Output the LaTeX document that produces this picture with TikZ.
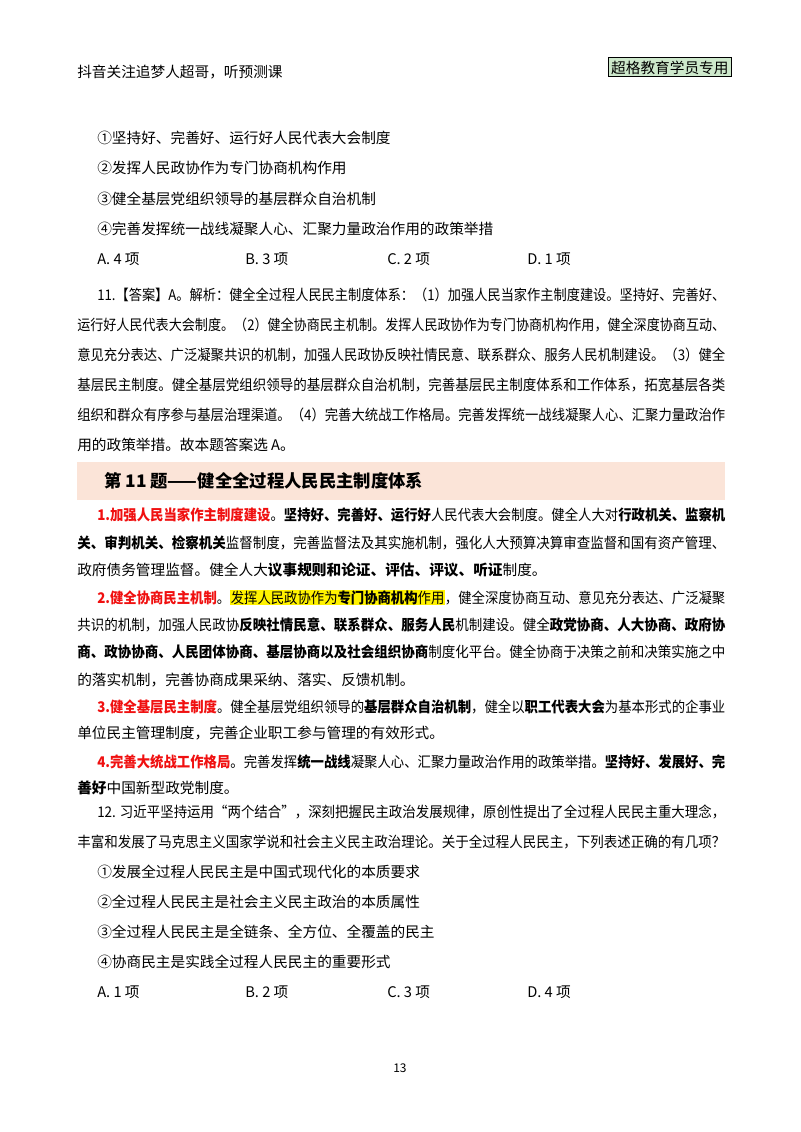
\documentclass[tikz,border=0pt]{standalone}
\usepackage{fontspec}
\usepackage{graphicx}
\setmainfont{Noto Sans CJK SC}
\XeTeXlinebreaklocale "zh"
\XeTeXlinebreakskip=0pt plus 2pt
\definecolor{redt}{HTML}{F01010}
\definecolor{bandc}{HTML}{FBE4D8}
\definecolor{greenb}{HTML}{CDE8CB}
\newsavebox\lnbox
\newcommand\jl[2]{\sbox\lnbox{#2}\ifdim\wd\lnbox>#1\relax\resizebox{#1}{\ht\lnbox}{\usebox\lnbox}\else\hbox to #1{#2}\fi}
\newcommand\rt[1]{{\color{redt}\bfseries #1}}
\newcommand\bt[1]{{\bfseries #1}}
\newcommand\hl[1]{{\setlength\fboxsep{0.5pt}\colorbox{yellow}{#1}}}
\begin{document}
\begin{tikzpicture}[x=0.75pt,y=-0.75pt,
  tx/.style={anchor=base west,inner sep=0pt,font=\fontsize{11pt}{13pt}\selectfont}]
\useasboundingbox (0,0) rectangle (800,1132);
\fill[white] (0,0) rectangle (800,1132);
\node[tx] (hd) at (77,77) {抖音关注追梦人超哥，听预测课};
\node[tx,draw,fill=greenb,inner sep=2pt,line width=0.8pt] (gb) at (608,73) {超格教育学员专用};
\node[tx] (q1) at (97,143) {①坚持好、完善好、运行好人民代表大会制度};
\node[tx] (q2) at (97,173) {②发挥人民政协作为专门协商机构作用};
\node[tx] (q3) at (97,204) {③健全基层党组织领导的基层群众自治机制};
\node[tx] (q4) at (97,234) {④完善发挥统一战线凝聚人心、汇聚力量政治作用的政策举措};
\node[tx] (oa) at (97,264) {A. 4 项};
\node[tx] (ob) at (245,264) {B. 3 项};
\node[tx] (oc) at (387,264) {C. 2 项};
\node[tx] (od) at (527,264) {D. 1 项};
\node[tx] (a1) at (97,300) {\jl{471pt}{11.【答案】A。解析：健全全过程人民民主制度体系：（1）加强人民当家作主制度建设。坚持好、完善好、}};
\node[tx] (a2) at (77,330) {\jl{486pt}{运行好人民代表大会制度。（2）健全协商民主机制。发挥人民政协作为专门协商机构作用，健全深度协商互动、}};
\node[tx] (a3) at (77,360) {\jl{486pt}{意见充分表达、广泛凝聚共识的机制，加强人民政协反映社情民意、联系群众、服务人民机制建设。（3）健全}};
\node[tx] (a4) at (77,390) {\jl{486pt}{基层民主制度。健全基层党组织领导的基层群众自治机制，完善基层民主制度体系和工作体系，拓宽基层各类}};
\node[tx] (a5) at (77,420) {\jl{486pt}{组织和群众有序参与基层治理渠道。（4）完善大统战工作格局。完善发挥统一战线凝聚人心、汇聚力量政治作}};
\node[tx] (a6) at (77,450) {用的政策举措。故本题答案选 A。};
\fill[bandc] (77,462) rectangle (725,500);
\node[tx,font=\fontsize{13pt}{15pt}\selectfont\bfseries] (band) at (104,487) {第 11 题——健全全过程人民民主制度体系};
\node[tx] (p1a) at (97,520) {\jl{471pt}{\rt{1.加强人民当家作主制度建设}。\bt{坚持好、完善好、运行好}人民代表大会制度。健全人大对\bt{行政机关、监察机}}};
\node[tx] (p1b) at (77,548) {\jl{486pt}{\bt{关、审判机关、检察机关}监督制度，完善监督法及其实施机制，强化人大预算决算审查监督和国有资产管理、}};
\node[tx] (p1c) at (77,575) {政府债务管理监督。健全人大\bt{议事规则和论证、评估、评议、听证}制度。};
\node[tx] (p2a) at (97,603) {\jl{471pt}{\rt{2.健全协商民主机制}。\hl{发挥人民政协作为\bt{专门协商机构}作用}，健全深度协商互动、意见充分表达、广泛凝聚}};
\node[tx] (p2b) at (77,630) {\jl{486pt}{共识的机制，加强人民政协\bt{反映社情民意、联系群众、服务人民}机制建设。健全\bt{政党协商、人大协商、政府协}}};
\node[tx] (p2c) at (77,657) {\jl{486pt}{\bt{商、政协协商、人民团体协商、基层协商以及社会组织协商}制度化平台。健全协商于决策之前和决策实施之中}};
\node[tx] (p2d) at (77,685) {的落实机制，完善协商成果采纳、落实、反馈机制。};
\node[tx] (p3a) at (97,712) {\jl{471pt}{\rt{3.健全基层民主制度}。健全基层党组织领导的\bt{基层群众自治机制}，健全以\bt{职工代表大会}为基本形式的企事业}};
\node[tx] (p3b) at (77,738) {单位民主管理制度，完善企业职工参与管理的有效形式。};
\node[tx] (p4a) at (97,767) {\jl{471pt}{\rt{4.完善大统战工作格局}。完善发挥\bt{统一战线}凝聚人心、汇聚力量政治作用的政策举措。\bt{坚持好、发展好、完}}};
\node[tx] (p4b) at (77,793) {\bt{善好}中国新型政党制度。};
\node[tx] (b1) at (97,817) {\jl{471pt}{12. 习近平坚持运用“两个结合”，深刻把握民主政治发展规律，原创性提出了全过程人民民主重大理念，}};
\node[tx] (b2) at (77,847) {\jl{486pt}{丰富和发展了马克思主义国家学说和社会主义民主政治理论。关于全过程人民民主，下列表述正确的有几项？}};
\node[tx] (r1) at (97,877) {①发展全过程人民民主是中国式现代化的本质要求};
\node[tx] (r2) at (97,907) {②全过程人民民主是社会主义民主政治的本质属性};
\node[tx] (r3) at (97,937) {③全过程人民民主是全链条、全方位、全覆盖的民主};
\node[tx] (r4) at (97,967) {④协商民主是实践全过程人民民主的重要形式};
\node[tx] (sa) at (97,997) {A. 1 项};
\node[tx] (sb) at (245,997) {B. 2 项};
\node[tx] (sc) at (387,997) {C. 3 项};
\node[tx] (sd) at (527,997) {D. 4 项};
\node[tx,font=\fontsize{9pt}{11pt}\selectfont] (pg) at (393,1072) {13};
\end{tikzpicture}
\end{document}
